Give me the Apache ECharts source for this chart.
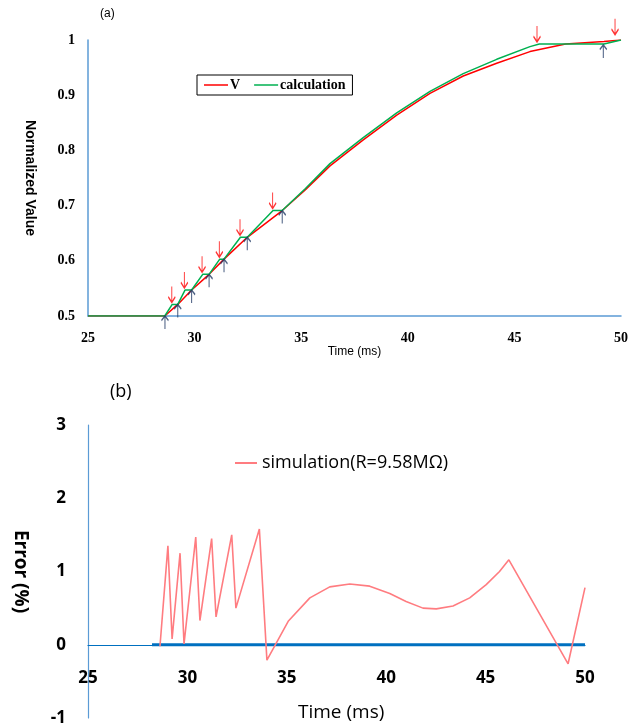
<!DOCTYPE html>
<html>
<head>
<meta charset="utf-8">
<script src="https://cdn.jsdelivr.net/npm/echarts@6/dist/echarts.min.js"></script>
<style>
html,body{margin:0;padding:0;background:#fff;}
#chart{width:628px;height:728px;}
</style>
</head>
<body>
<div id="chart"></div>
<script>
// ---- Panel (a): normalized value ----
const tV = [25, 28.6, 29.21, 29.86, 30.68, 31.38, 32.47, 34.11, 35.2, 36.35, 37.91, 39.48, 41.04, 42.6, 44.17, 45.73, 47.4, 49.2, 50];
const vV = [0.5, 0.5, 0.521, 0.547, 0.5755, 0.603, 0.6426, 0.691, 0.729, 0.772, 0.819, 0.864, 0.9034, 0.9348, 0.958, 0.979, 0.9928, 0.9975, 1.0];

const tCalc = [25, 28.6, 28.95, 29.21, 29.55, 29.86, 30.38, 30.68, 31.18, 31.38, 32.15, 32.47, 33.68, 34.11, 35.2, 36.35, 37.91, 39.48, 41.04, 42.6, 44.17, 45.73, 46.17, 49.2, 50];
const vCalc = [0.5, 0.5, 0.521, 0.521, 0.547, 0.547, 0.5755, 0.5755, 0.603, 0.603, 0.6426, 0.6426, 0.691, 0.691, 0.731, 0.776, 0.823, 0.868, 0.907, 0.939, 0.965, 0.988, 0.9928, 0.9928, 1.0];

// arrow markers (down = red, up = navy)
const tDown = [28.93, 29.52, 30.35, 31.16, 32.13, 33.66, 46.06, 49.72];
const vDown = [0.521, 0.547, 0.5755, 0.603, 0.6426, 0.691, 0.9928, 1.006];
const tUp = [28.61, 29.21, 29.86, 30.68, 31.38, 32.47, 34.11, 49.17];
const vUp = [0.5, 0.521, 0.547, 0.5755, 0.603, 0.6426, 0.691, 0.991];

// ---- Panel (b): error ----
const tErr = [28.62, 29.02, 29.23, 29.63, 29.83, 30.42, 30.63, 31.22, 31.44, 32.23, 32.44, 33.62, 34.0, 35.07, 36.16, 37.16, 38.17, 39.17, 40.18, 41.0, 41.85, 42.52, 43.36, 44.2, 45.03, 45.7, 46.17, 49.15, 50.0];
const vErr = [-0.02, 1.35, 0.08, 1.25, 0.01, 1.47, 0.33, 1.45, 0.38, 1.50, 0.50, 1.58, -0.21, 0.32, 0.64, 0.79, 0.83, 0.80, 0.70, 0.59, 0.50, 0.49, 0.53, 0.64, 0.82, 1.0, 1.16, -0.26, 0.78];
const tZero = [28.22, 50];
const vZero = [0, 0];

const pair = (xs, ys) => xs.map((x, i) => [x, ys[i]]);

const chart = echarts.init(document.getElementById('chart'), null, {renderer: 'canvas'});

const axisBlue = '#5B9BD5';
const serifBold = {fontFamily: 'Liberation Serif', fontWeight: 'bold', color: '#000'};

// bottom panel geometry: y from -1 to 3 over the grid height; axis must sit at y = 0
const gridBTop = 425, gridBBottom = 10;
const gridBHeight = 728 - gridBTop - gridBBottom;
const zeroOffset = -gridBHeight * (0 - (-1)) / (3 - (-1));

chart.setOption({
  animation: false,
  backgroundColor: '#fff',
  grid: [
    {left: 88, right: 7, top: 40, bottom: 412, outerBoundsMode: 'none', containLabel: false},
    {left: 88, right: 43, top: gridBTop, bottom: gridBBottom, outerBoundsMode: 'none', containLabel: false}
  ],
  xAxis: [
    {
      gridIndex: 0, type: 'value', min: 25, max: 50, interval: 5,
      axisLine: {lineStyle: {color: axisBlue, width: 1.5}},
      axisTick: {show: false}, splitLine: {show: false},
      axisLabel: Object.assign({fontSize: 14, margin: 15}, serifBold),
      name: 'Time (ms)', nameLocation: 'middle', nameGap: 30,
      nameTextStyle: {fontFamily: 'Liberation Sans', fontSize: 12, color: '#000'}
    },
    {
      gridIndex: 1, type: 'value', min: 25, max: 50, interval: 5,
      position: 'bottom', offset: zeroOffset,
      axisLine: {onZero: false, lineStyle: {color: '#0070C0', width: 1.2}},
      axisTick: {show: false}, splitLine: {show: false},
      axisLabel: {fontFamily: 'Open Sans', fontWeight: 'bold', fontSize: 17, color: '#000', margin: 25}
    }
  ],
  yAxis: [
    {
      gridIndex: 0, type: 'value', min: 0.5, max: 1, interval: 0.1,
      axisLine: {show: true, lineStyle: {color: axisBlue, width: 1.5}},
      axisTick: {show: false}, splitLine: {show: false},
      axisLabel: Object.assign({fontSize: 14, margin: 13}, serifBold),
      name: 'Normalized Value', nameLocation: 'middle', nameRotate: -90, nameGap: 51,
      nameTextStyle: {fontFamily: 'Liberation Sans', fontWeight: 'bold', fontSize: 14, color: '#000'}
    },
    {
      gridIndex: 1, type: 'value', min: -1, max: 3, interval: 1,
      axisLine: {show: true, onZero: false, lineStyle: {color: axisBlue, width: 1.2}},
      axisTick: {show: false}, splitLine: {show: false},
      axisLabel: {fontFamily: 'Open Sans', fontWeight: 'bold', fontSize: 17, color: '#000', margin: 22},
      name: 'Error (%)', nameLocation: 'middle', nameRotate: -90, nameGap: 58,
      nameTextStyle: {fontFamily: 'Open Sans', fontWeight: 'bold', fontSize: 19, color: '#000'}
    }
  ],
  legend: [
    {
      data: ['V', 'calculation'], left: 197, top: 75,
      padding: [3, 7], itemGap: 14, borderColor: '#000', borderWidth: 1,
      icon: 'rect', itemWidth: 24, itemHeight: 1.5,
      textStyle: {fontFamily: 'Liberation Serif', fontWeight: 'bold', fontSize: 14, color: '#000', padding: [0, 0, 0, -3]}
    },
    {
      data: ['simulation(R=9.58MΩ)'], left: 230, top: 449,
      icon: 'rect', itemWidth: 22, itemHeight: 2,
      textStyle: {fontFamily: 'Open Sans', fontSize: 18, color: '#000'}
    }
  ],
  graphic: [
    {type: 'text', left: 100, top: 8, style: {text: '(a)', font: '12px "Liberation Sans"', fill: '#000'}},
    {type: 'text', left: 110, top: 383, style: {text: '(b)', font: '18px "Open Sans"', fill: '#000'}},
    {type: 'text', left: 298, top: 703, style: {text: 'Time (ms)', font: '19px "Open Sans"', fill: '#000'}}
  ],
  series: [
    {
      name: 'V', type: 'line', xAxisIndex: 0, yAxisIndex: 0,
      data: pair(tV, vV), symbol: 'none', smooth: false,
      color: '#FF0000', lineStyle: {color: '#FF0000', width: 1.5}
    },
    {
      name: 'calculation', type: 'line', xAxisIndex: 0, yAxisIndex: 0,
      data: pair(tCalc, vCalc), symbol: 'none',
      color: '#00B050', lineStyle: {color: '#00B050', width: 1.5}
    },
    {
      name: 'down', type: 'scatter', xAxisIndex: 0, yAxisIndex: 0,
      data: pair(tDown, vDown),
      symbol: 'path://M5,0L5,20M1,13L5,20L9,13', symbolSize: [7, 16], symbolOffset: [0, -10],
      itemStyle: {color: 'rgba(0,0,0,0)', borderColor: '#FF0000', borderWidth: 1.4},
      silent: true, z: 5, clip: false
    },
    {
      name: 'up', type: 'scatter', xAxisIndex: 0, yAxisIndex: 0,
      data: pair(tUp, vUp),
      symbol: 'path://M5,20L5,0M1,7L5,0L9,7', symbolSize: [7, 13], symbolOffset: [0, 6.5],
      itemStyle: {color: 'rgba(0,0,0,0)', borderColor: '#1F3864', borderWidth: 1.4},
      silent: true, z: 5, clip: false
    },
    {
      name: 'zero', type: 'line', xAxisIndex: 1, yAxisIndex: 1,
      data: pair(tZero, vZero), symbol: 'none',
      color: '#0070C0', lineStyle: {color: '#0070C0', width: 3}
    },
    {
      name: 'simulation(R=9.58MΩ)', type: 'line', xAxisIndex: 1, yAxisIndex: 1,
      data: pair(tErr, vErr), symbol: 'none',
      color: '#FF7C80', lineStyle: {color: '#FF7C80', width: 1.6}, z: 4
    }
  ]
});
</script>
</body>
</html>
